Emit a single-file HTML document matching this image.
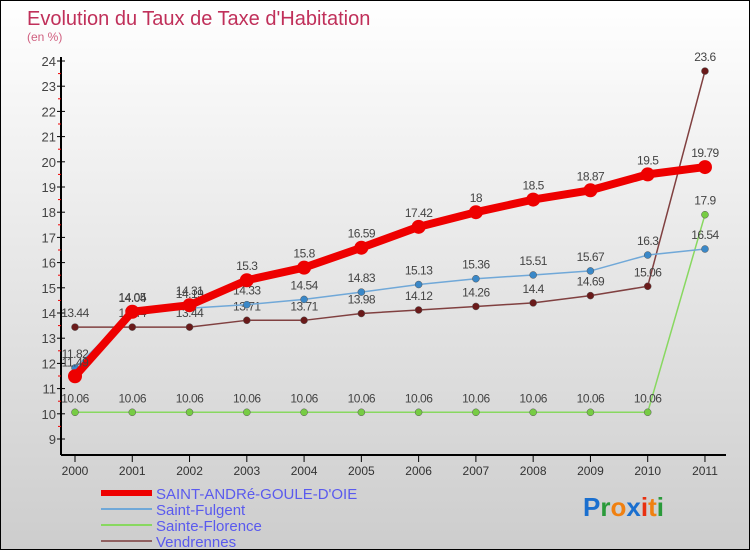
<!DOCTYPE html>
<html><head><meta charset="utf-8"><style>
body{margin:0}
#wrap{position:relative;width:748px;height:548px;border:1px solid #000;background:linear-gradient(#fff 0%,#f0f0f0 30%,#dcdcdc 70%,#cdcdcd 100%);overflow:hidden;font-family:"Liberation Sans",sans-serif}
svg text{font-family:"Liberation Sans",sans-serif}
</style></head><body>
<div id="wrap">
<svg id="c" width="748" height="548">
<text x="26" y="24" font-size="20" fill="#c0305a">Evolution du Taux de Taxe d'Habitation</text>
<text x="26" y="40" font-size="12" fill="#d06080">(en %)</text>
<g id="axes"></g><g id="series"></g><g id="legend"></g>
<g font-size="26" font-weight="bold">
<text x="582" y="515"><tspan fill="#1a6fcf">P</tspan><tspan fill="#2a9a3a">r</tspan><tspan fill="#f08010">o</tspan><tspan fill="#1a6fcf">x</tspan><tspan fill="#e83010">i</tspan><tspan fill="#f08010">t</tspan><tspan fill="#2a9a3a">i</tspan></text>
</g>
</svg>
</div>
<script>
const years=["2000","2001","2002","2003","2004","2005","2006","2007","2008","2009","2010","2011"];
const yTicks=[9,10,11,12,13,14,15,16,17,18,19,20,21,22,23,24];
const andre=[11.49,14.05,14.31,15.3,15.8,16.59,17.42,18,18.5,18.87,19.5,19.79];
const fulgent=[11.82,14.04,14.19,14.33,14.54,14.83,15.13,15.36,15.51,15.67,16.3,16.54];
const florence=[10.06,10.06,10.06,10.06,10.06,10.06,10.06,10.06,10.06,10.06,10.06,17.9];
const vendrennes=[13.44,13.44,13.44,13.71,13.71,13.98,14.12,14.26,14.4,14.69,15.06,23.6];
const names=["SAINT-ANDRé-GOULE-D'OIE","Saint-Fulgent","Sainte-Florence","Vendrennes"];
const NS="http://www.w3.org/2000/svg";
const X=i=>74+i*57.27, Y=v=>438-(v-9)*25.2;
function mk(p,t,a){const e=document.createElementNS(NS,t);for(const k in a)e.setAttribute(k,a[k]);p.appendChild(e);return e;}
const ax=document.getElementById('axes');
const yl=mk(ax,'line',{x1:60,y1:56,x2:60,y2:454,stroke:'#000','stroke-width':2});


const xl=mk(ax,'line',{x1:60,y1:454,x2:725,y2:454,stroke:'#000','stroke-width':2});


yTicks.forEach(v=>{
 mk(ax,'line',{x1:56,y1:Y(v),x2:64,y2:Y(v),stroke:'#000'});
 if(v<24)mk(ax,'line',{x1:57,y1:Y(v+0.5),x2:60,y2:Y(v+0.5),stroke:'#e00'});
 const t=mk(ax,'text',{x:55,y:Y(v)+5,'text-anchor':'end','font-size':13,fill:'#444'});t.textContent=v;
 
 
});
years.forEach((y,i)=>{
 mk(ax,'line',{x1:X(i),y1:454,x2:X(i),y2:461,stroke:'#000'});
 const t=mk(ax,'text',{x:X(i),y:474,'text-anchor':'middle','font-size':12,fill:'#333'});t.textContent=y;
 
 
});
const se=document.getElementById('series');
const defs=[
 {d:florence,c:'#88d860',dot:'#77cc44',w:1.5,r:3.5,n:'sainte-florence'},
 {d:vendrennes,c:'#804040',dot:'#6a1a1a',w:1.5,r:3.5,n:'vendrennes'},
 {d:fulgent,c:'#70a8d8',dot:'#3a88c8',w:1.5,r:3.5,n:'saint-fulgent'},
 {d:andre,c:'#ee0000',dot:'#ee0000',w:8,r:7,n:'saint-andre'}];
defs.forEach(s=>{
 const p=mk(se,'polyline',{points:s.d.map((v,i)=>X(i)+','+Y(v)).join(' '),fill:'none',stroke:s.c,'stroke-width':s.w,'stroke-linejoin':'round'});
 
 
 s.d.forEach((v,i)=>{
  const c=mk(se,'circle',{cx:X(i),cy:Y(v),r:s.r,fill:s.dot,stroke:s.w>2?'none':'#555','stroke-width':0.5});
  
  
  const t=mk(se,'text',{x:X(i),y:Y(v)-10,'text-anchor':'middle','font-size':12,fill:'#444','letter-spacing':'-0.5'});t.textContent=v;
  
  
 });
});
const lg=document.getElementById('legend');
const lc=['#ee0000','#70a8d8','#88d860','#906060'],lw=[6,2,2,2];
names.forEach((n,i)=>{
 const y=492+i*16;
 const l=mk(lg,'line',{x1:100,y1:y,x2:151,y2:y,stroke:lc[i],'stroke-width':lw[i]});
 
 
 const t=mk(lg,'text',{x:155,y:y+6,'font-size':15,fill:'#5a5aee'});t.textContent=n;
 
 
});
</script>
</body></html>
